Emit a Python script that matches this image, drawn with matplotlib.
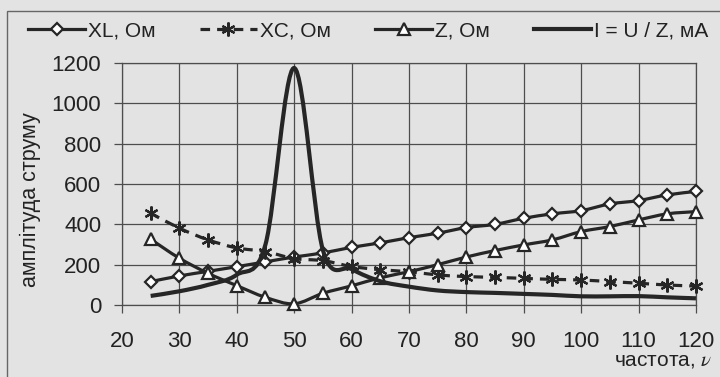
import numpy as np
import matplotlib
matplotlib.use("Agg")
import matplotlib.pyplot as plt
from matplotlib.path import Path
from matplotlib.patches import PathPatch, Rectangle
from matplotlib.lines import Line2D

plt.rcParams['font.family'] = ['Liberation Sans', 'DejaVu Sans']
plt.rcParams['mathtext.fontset'] = 'stix'

freq = [25, 30, 35, 40, 45, 50, 55, 60, 65, 70, 75, 80, 85, 90, 95, 100, 105, 110, 115, 120]
xl = [116, 144, 167, 190, 214, 238, 258, 286, 308, 334, 356, 384, 400, 430, 452, 468, 501, 518, 546, 563]
xc = [455, 381, 323, 283, 265, 230, 220, 191, 175, 165, 149, 141, 137, 132, 127, 124, 116, 108, 99, 94]
z = [326, 232, 157, 96, 38, 6, 58, 95, 135, 165, 200, 238, 270, 298, 323, 364, 389, 422, 452, 463]
cur = [45, 68, 100, 150, 300, 1175, 273, 178, 118, 91, 72, 64, 60, 55, 50, 43, 43, 44, 38, 33]

xticks = [20, 30, 40, 50, 60, 70, 80, 90, 100, 110, 120]
yticks = [0, 200, 400, 600, 800, 1000, 1200]
labels = ['XL, Ом', 'XC, Ом', 'Z, Ом', 'I = U / Z, мА']

BG = '#e3e3e3'
INK = '#262626'
GRID = '#4d4d4d'


def smooth_path(x, y):
    pts = np.column_stack([x, y]).astype(float)
    n = len(pts)
    verts = [pts[0]]
    codes = [Path.MOVETO]
    for i in range(n - 1):
        p0 = pts[i - 1] if i > 0 else pts[i]
        p1 = pts[i]
        p2 = pts[i + 1]
        p3 = pts[i + 2] if i + 2 < n else pts[i + 1]
        c1 = p1 + (p2 - p0) / 6.0
        c2 = p2 - (p3 - p1) / 6.0
        verts += [c1, c2, p2]
        codes += [Path.CURVE4] * 3
    return Path(verts, codes)


fig = plt.figure(figsize=(7.2, 3.77), dpi=100, facecolor=BG)
ax = fig.add_axes([0.1694, 0.191, 0.7972, 0.6419])
ax.set_facecolor(BG)
ax.set_xlim(20, 120)
ax.set_ylim(0, 1200)
ax.set_xticks(xticks)
ax.set_yticks(yticks)
ax.grid(True, color=GRID, lw=0.9)
ax.set_axisbelow(True)
for s in ax.spines.values():
    s.set_color(GRID)
    s.set_linewidth(0.9)
ax.tick_params(axis='both', direction='out', length=6, width=0.9, color=GRID,
               labelsize=16, labelcolor='#222222')
ax.tick_params(axis='x', pad=13)
ax.tick_params(axis='y', pad=9)

series = [
    (xl, dict(ls='-', marker='D', ms=6.5, mfc='white'), 2.3),
    (xc, dict(ls=(0, (3, 2.2)), marker=(6, 2, 0), ms=10, mfc='none'), 2.3),
    (z, dict(ls='-', marker='^', ms=8.5, mfc='white'), 2.3),
    (cur, dict(ls='-', marker=None, ms=0, mfc='none'), 3.0),
]

handles = []
for k, (vals, st, lw) in enumerate(series):
    patch = PathPatch(smooth_path(freq, vals), fill=False, edgecolor=INK, lw=lw,
                      ls=st['ls'], capstyle='butt', zorder=3 + k)
    ax.add_patch(patch)
    if st['marker'] is not None:
        ax.plot(freq, vals, ls='none', marker=st['marker'], ms=st['ms'],
                mfc=st['mfc'], mec=INK, mew=1.6, zorder=3 + k, clip_on=False)
    handles.append(Line2D([], [], color=INK, lw=lw, ls=st['ls'],
                          marker=st['marker'], ms=st['ms'], mfc=st['mfc'],
                          mec=INK, mew=1.6))

fig.legend(handles, labels, loc='center left', bbox_to_anchor=(28 / 720, 1 - 31 / 377),
           ncol=4, frameon=False, fontsize=15, handlelength=2.75,
           handletextpad=0.15, columnspacing=2.1, numpoints=1,
           borderpad=0, borderaxespad=0, labelcolor='#222222')

fig.text(30 / 720, 0.47, 'амплітуда струму', rotation=90, ha='center', va='center',
         fontsize=15.5, color='#222222')
fig.text(712 / 720, 1 - 360 / 377, 'частота, $\\mathit{\\nu}$', ha='right', va='center',
         fontsize=15, color='#222222')

frame = Rectangle((7 / 720, -0.1), 1.2, (1 - 11 / 377) + 0.1, transform=fig.transFigure,
                  fill=False, edgecolor='#666666', lw=1.0)
fig.add_artist(frame)

fig.savefig('out.png', dpi=100, facecolor=BG)
